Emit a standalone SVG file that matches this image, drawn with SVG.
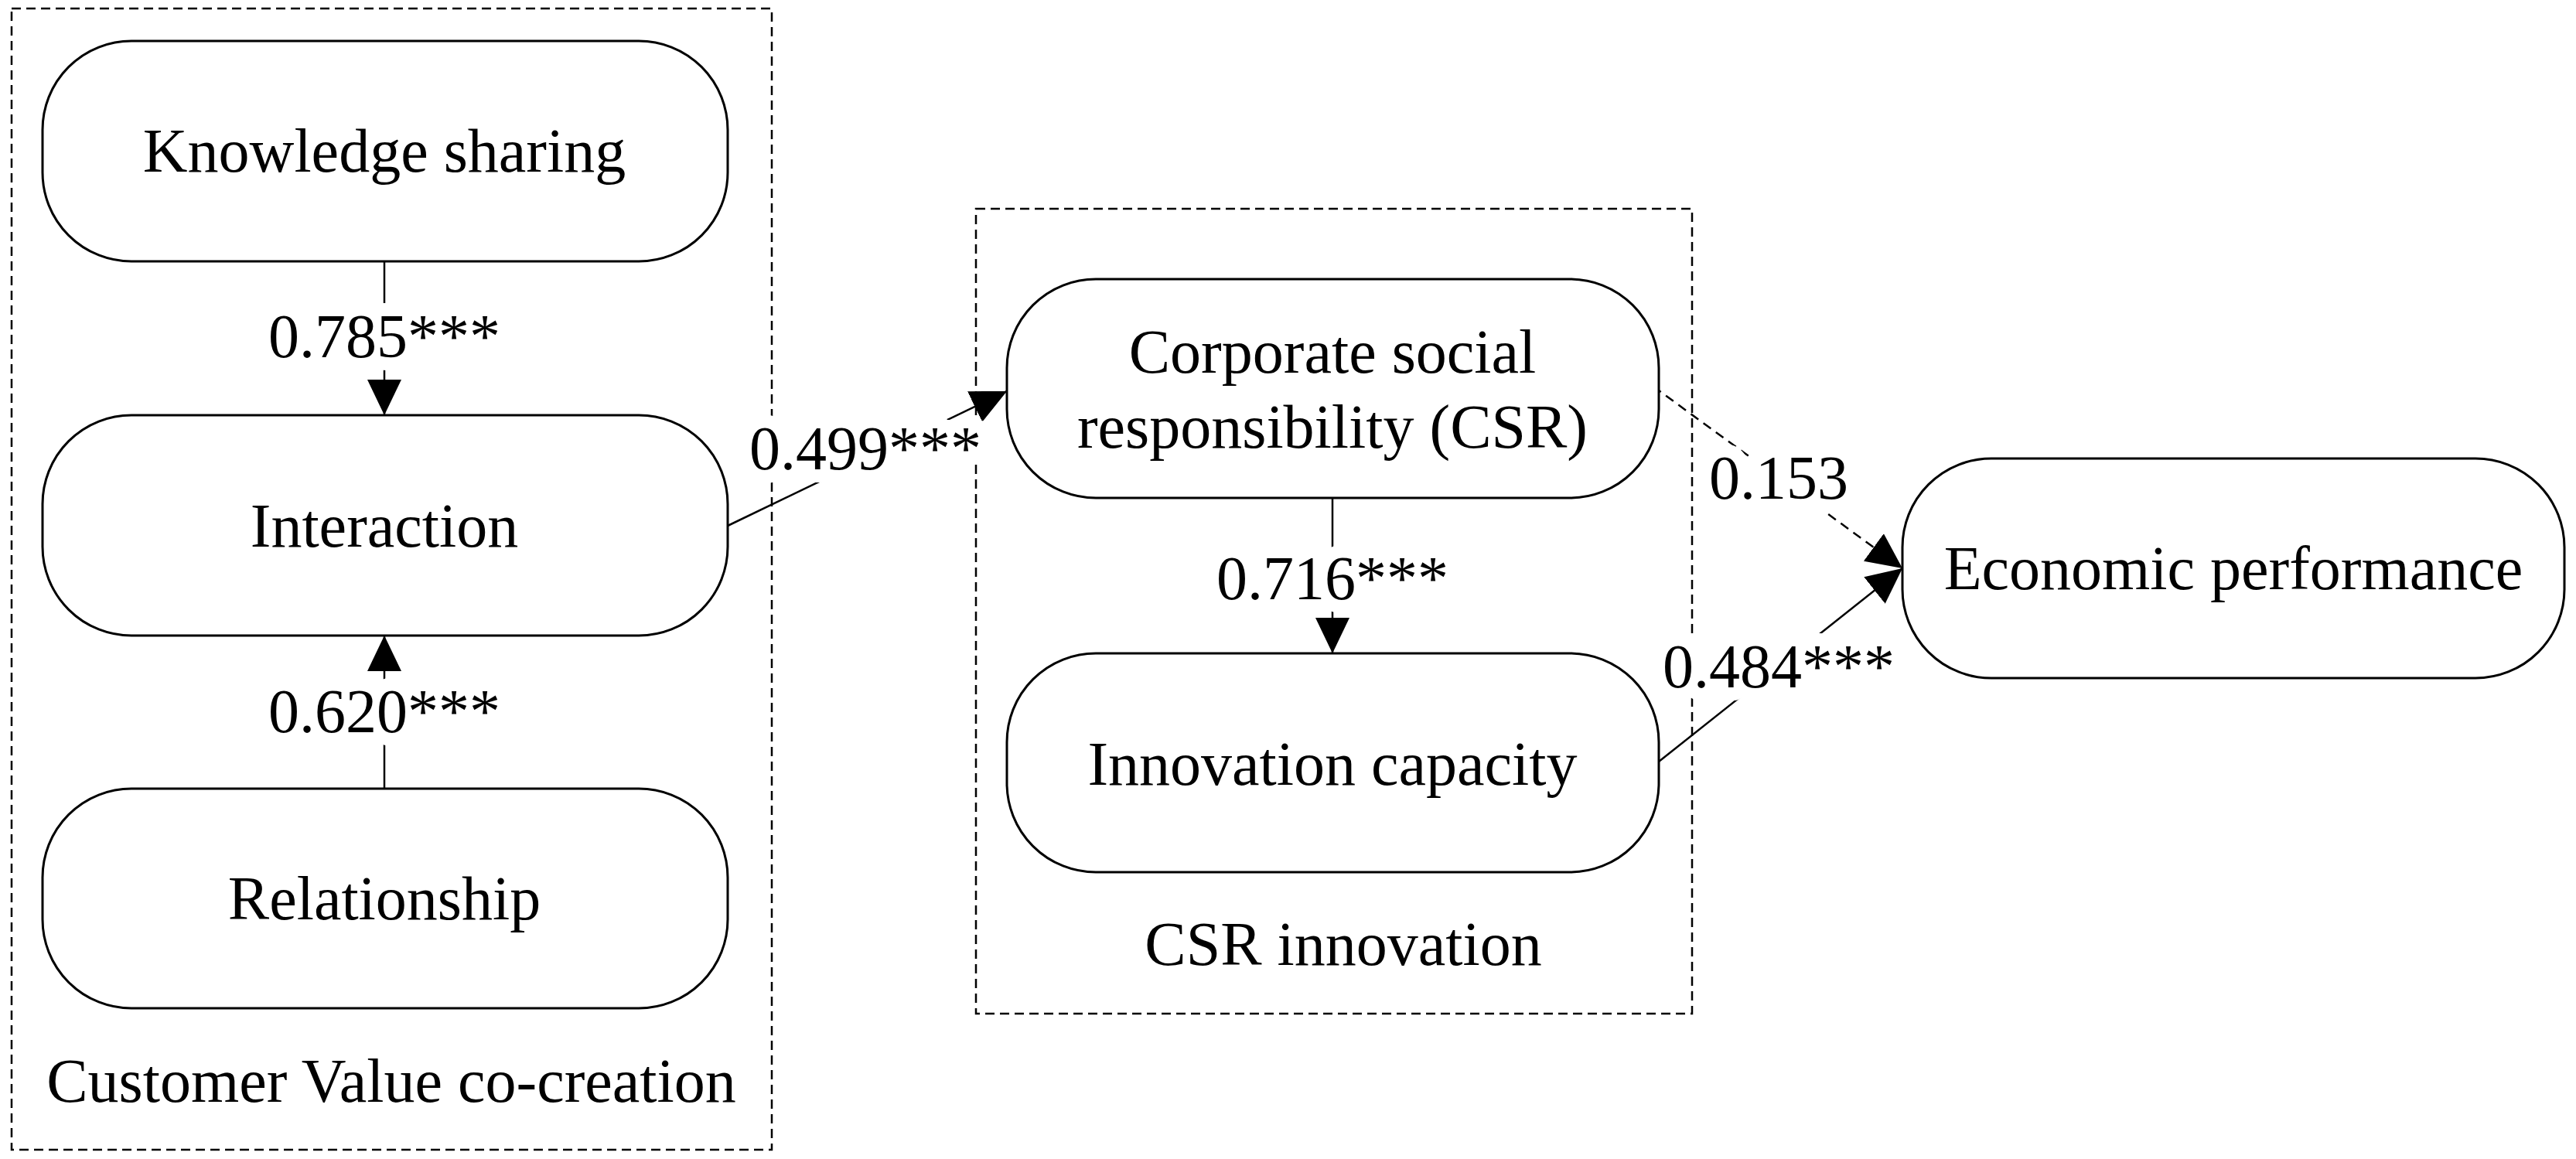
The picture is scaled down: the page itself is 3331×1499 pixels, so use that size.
<svg xmlns="http://www.w3.org/2000/svg" width="3331" height="1499" viewBox="0 0 3331 1499">
<style>
text{font-family:"Liberation Serif","DejaVu Serif",serif;font-size:80px;fill:#000;text-anchor:middle;dominant-baseline:central}
.node{fill:#fff;stroke:#000;stroke-width:3}
.grp{fill:none;stroke:#000;stroke-width:2.5;stroke-dasharray:12 7}
.c{stroke:#000;stroke-width:2.5;fill:none}
.d{stroke-dasharray:12 8}
.lbl{paint-order:stroke;stroke:#fff;stroke-width:34px;stroke-linejoin:round}
</style>
<defs>
<marker id="ah" markerUnits="userSpaceOnUse" markerWidth="50" markerHeight="44" refX="46" refY="22" orient="auto">
<path d="M0,0 L46,22 L0,44 Z" fill="#000"/>
</marker>
</defs>
<g id="group-cvc"><rect class="grp" x="15" y="11" width="983" height="1476"/><text x="506" y="1398">Customer Value co-creation</text></g>
<g id="group-csr"><rect class="grp" x="1262" y="270" width="926" height="1041"/><text x="1737" y="1221">CSR innovation</text></g>
<g id="connectors">
<line class="c" x1="497" y1="338" x2="497" y2="537" marker-end="url(#ah)"/>
<line class="c" x1="497" y1="1020" x2="497" y2="822" marker-end="url(#ah)"/>
<line class="c" x1="941" y1="680" x2="1302" y2="506" marker-end="url(#ah)"/>
<line class="c" x1="1723" y1="644" x2="1723" y2="845" marker-end="url(#ah)"/>
<line class="c d" x1="2138" y1="500" x2="2460" y2="735" marker-end="url(#ah)"/>
<line class="c" x1="2145" y1="985" x2="2460" y2="735" marker-end="url(#ah)"/>
<text class="lbl" x="497" y="435">0.785***</text>
<text class="lbl" x="497" y="920">0.620***</text>
<text class="lbl" x="1119" y="580">0.499***</text>
<text class="lbl" x="1723" y="748">0.716***</text>
<text class="lbl" x="2300" y="618">0.153</text>
<text class="lbl" x="2300" y="862">0.484***</text>
</g>
<g id="n-knowledge"><rect class="node" x="55" y="53" width="886" height="285" rx="115"/><text x="497" y="195">Knowledge sharing</text></g>
<g id="n-interaction"><rect class="node" x="55" y="537" width="886" height="285" rx="115"/><text x="497" y="680">Interaction</text></g>
<g id="n-relationship"><rect class="node" x="55" y="1020" width="886" height="284" rx="115"/><text x="497" y="1162">Relationship</text></g>
<g id="n-csr"><rect class="node" x="1302" y="361" width="843" height="283" rx="115"/><text x="1723" y="455">Corporate social</text><text x="1723" y="552">responsibility (CSR)</text></g>
<g id="n-innovation"><rect class="node" x="1302" y="845" width="843" height="283" rx="115"/><text x="1723" y="988">Innovation capacity</text></g>
<g id="n-economic"><rect class="node" x="2460" y="593" width="856" height="284" rx="115"/><text x="2888" y="735">Economic performance</text></g>
</svg>
